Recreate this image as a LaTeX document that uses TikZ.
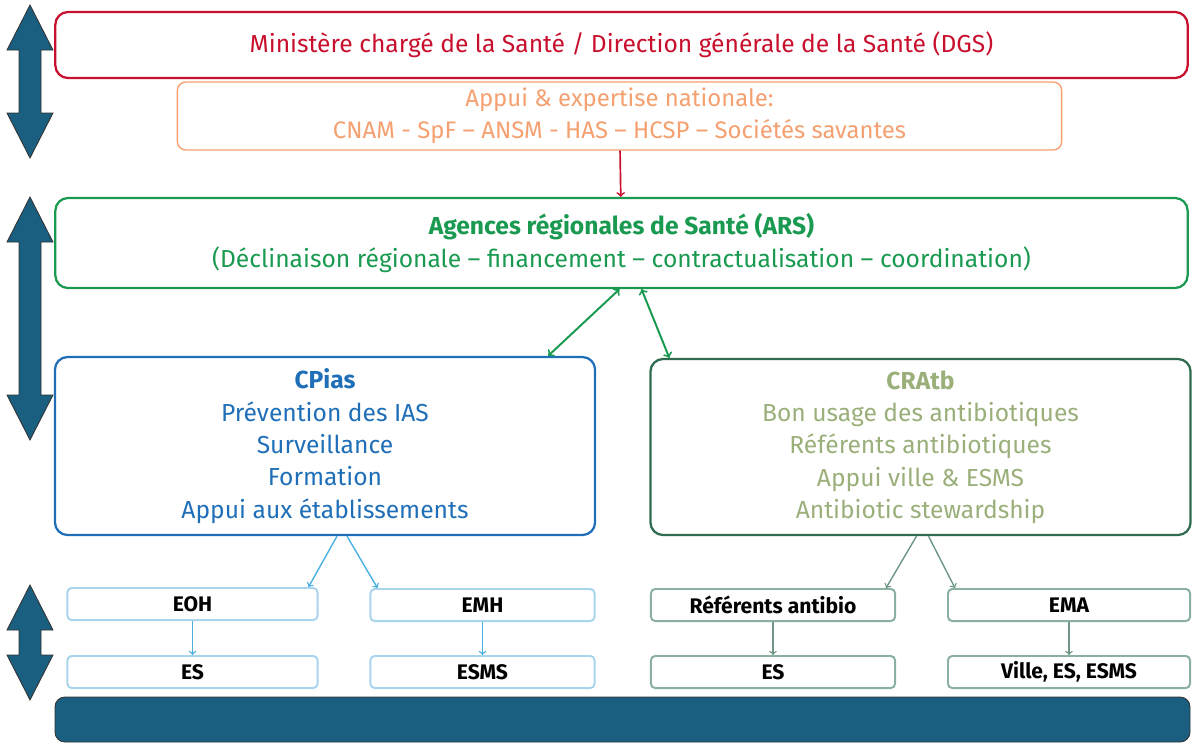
\documentclass[tikz,border=0pt]{standalone}
\usepackage{fontspec}
\setmainfont{Fira Sans}
\usetikzlibrary{positioning}
\definecolor{dgsRed}{HTML}{C8102E}
\definecolor{appOrange}{HTML}{F4A070}
\definecolor{arsGreen}{HTML}{1A9A50}
\definecolor{cpBlue}{HTML}{1F6FB8}
\definecolor{crDark}{HTML}{2E6B4F}
\definecolor{crText}{HTML}{9AAF7A}
\definecolor{lightBlue}{HTML}{A8D4EC}
\definecolor{arrBlue}{HTML}{4AB0E0}
\definecolor{lightGreen}{HTML}{8AB0A0}
\definecolor{barBlue}{HTML}{1A5E80}
\begin{document}
\begin{tikzpicture}[x=0.025cm,y=-0.025cm]

\tikzset{
  bigBox/.style={rectangle,rounded corners=9pt,line width=1.6pt,align=center,inner sep=0pt},
  smallBox/.style={rectangle,rounded corners=3pt,line width=1.4pt,minimum height=0.8cm,inner sep=0pt,font=\fontsize{15}{17}\selectfont\bfseries},
  blueBox/.style={smallBox,draw=lightBlue},
  greenBox/.style={smallBox,draw=lightGreen},
  blockArrow/.style={fill=barBlue,draw=black!80,line width=0.6pt}
}
\newcommand{\vArrow}[2]{%
  \filldraw[blockArrow] (30,#1) -- (53,#1+45) -- (41,#1+45) -- (41,#2-45) -- (53,#2-45)
    -- (30,#2) -- (7,#2-45) -- (19,#2-45) -- (19,#1+45) -- (7,#1+45) -- cycle;}

\useasboundingbox (0,0) rectangle (1200,745);

%Level marks
\vArrow{5}{158}
\vArrow{197}{440}
\vArrow{585}{700}

\node[bigBox,draw=dgsRed,text=dgsRed,minimum width=28.3cm,minimum height=1.65cm,
  font=\fontsize{17.5}{20}\selectfont] (dgs) at (621.5,45)
  {Ministère chargé de la Santé / Direction générale de la Santé (DGS)};
\node[bigBox,rounded corners=6pt,line width=1pt,draw=appOrange,text=appOrange,minimum width=22.1cm,minimum height=1.7cm,
  font=\fontsize{17}{23}\selectfont] (appui) at (619.5,116)
  {Appui \& expertise nationale:\\CNAM - SpF -- ANSM - HAS -- HCSP -- Sociétés savantes};
\node[bigBox,draw=arsGreen,text=arsGreen,minimum width=28.3cm,minimum height=2.25cm,
  font=\fontsize{17.5}{24}\selectfont] (ars) at (621.5,243)
  {\textbf{Agences régionales de Santé (ARS)}\\(Déclinaison régionale -- financement -- contractualisation -- coordination)};

\node[bigBox,draw=cpBlue,text=cpBlue,minimum width=13.5cm,minimum height=4.45cm,
  font=\fontsize{17.5}{23}\selectfont] (cpias) at (325,446)
  {\textbf{CPias}\\Prévention des IAS\\Surveillance\\Formation\\Appui aux établissements};
\node[bigBox,draw=crDark,text=crText,minimum width=13.5cm,minimum height=4.4cm,
  font=\fontsize{17.5}{23}\selectfont] (cratb) at (920.5,447)
  {\textbf{CRAtb}\\Bon usage des antibiotiques\\Référents antibiotiques\\Appui ville \& ESMS\\Antibiotic stewardship};

\node[blueBox,minimum width=6.25cm] (eoh) at (192.5,604) {EOH};
\node[blueBox,minimum width=5.6cm] (emh) at (482.5,605) {EMH};
\node[greenBox,minimum width=6.1cm] (refab) at (773,605) {Référents antibio};
\node[greenBox,minimum width=6.05cm] (ema) at (1069,605) {EMA};
\node[blueBox,minimum width=6.25cm] (es1) at (192.5,672) {ES};
\node[blueBox,minimum width=5.6cm] (esms) at (482.5,672) {ESMS};
\node[greenBox,minimum width=6.1cm] (es2) at (773,672) {ES};
\node[greenBox,minimum width=6.05cm] (ville) at (1069,672) {Ville, ES, ESMS};

\fill[barBlue,draw=black!80,rounded corners=7pt,line width=0.6pt] (55,697) rectangle (1190,742);

%connections
\draw[->,dgsRed,line width=1.2pt] (appui) -- (ars);
\draw[<->,arsGreen,line width=1.4pt] ([xshift=-0.05cm]ars.south) -- ([xshift=-1.2cm]cpias.north east);
\draw[<->,arsGreen,line width=1.4pt] ([xshift=0.5cm]ars.south) -- ([xshift=0.5cm]cratb.north west);
\draw[->,arrBlue,line width=1pt] ([xshift=0.3cm]cpias.south) -- ([xshift=-0.25cm]eoh.north east);
\draw[->,arrBlue,line width=1pt] ([xshift=0.55cm]cpias.south) -- ([xshift=0.2cm]emh.north west);
\draw[->,crDark!70,line width=1pt] ([xshift=-0.1cm]cratb.south) -- ([xshift=-0.25cm]refab.north east);
\draw[->,crDark!70,line width=1pt] ([xshift=0.2cm]cratb.south) -- ([xshift=0.2cm]ema.north west);
\draw[->,arrBlue,line width=1pt] (eoh) -- (es1);
\draw[->,arrBlue,line width=1pt] (emh) -- (esms);
\draw[->,crDark!70,line width=1pt] (refab) -- (es2);
\draw[->,crDark!70,line width=1pt] (ema) -- (ville);

\end{tikzpicture}
\end{document}
